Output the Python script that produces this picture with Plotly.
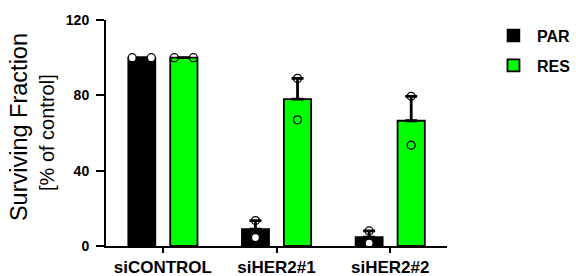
import plotly.graph_objects as go

# ---- data ----
categories = ["siCONTROL", "siHER2#1", "siHER2#2"]
par_mean = [100, 9, 4.75]
par_err = [0, 4.5, 3.25]
res_mean = [100, 78, 66.5]
res_err = [0, 11, 13]
par_points = [[100, 100], [4.5, 13.5], [1.5, 8]]
res_points = [[100, 100], [67, 89], [53.5, 79.5]]
y_ticks = [0, 40, 80, 120]

# ---- style ----
FONT = "Arial, Liberation Sans, sans-serif"
GREEN = "#00FF00"
BAR_W = 0.24
OFF = 0.185
JIT = 0.084

idx = list(range(len(categories)))
x_par = [i - OFF for i in idx]
x_res = [i + OFF for i in idx]

fig = go.Figure()
fig.add_trace(go.Bar(x=x_par, y=par_mean, width=BAR_W, name="PAR",
                     marker=dict(color="black", line=dict(color="black", width=1.5)),
                     legendgroup="a"))
fig.add_trace(go.Bar(x=x_res, y=res_mean, width=BAR_W, name="RES",
                     marker=dict(color=GREEN, line=dict(color="black", width=1.8)),
                     legendgroup="b"))


def pts(xc, groups):
    xs, ys = [], []
    for x0, g in zip(xc, groups):
        if len(set(g)) == 1:
            offs = [-JIT, JIT]
        else:
            offs = [0, 0]
        for o, v in zip(offs, g):
            xs.append(x0 + o)
            ys.append(v)
    return xs, ys


px, py = pts(x_par, par_points)
rx, ry = pts(x_res, res_points)
fig.add_trace(go.Scatter(x=px, y=py, mode="markers", showlegend=False, hoverinfo="skip",
                         marker=dict(size=8, color="white", line=dict(color="black", width=1.3))))
fig.add_trace(go.Scatter(x=rx, y=ry, mode="markers", showlegend=False, hoverinfo="skip",
                         marker=dict(size=8, color="rgba(0,0,0,0)", line=dict(color="black", width=1.3))))
# error bars (upward only), drawn on top of points
fig.add_trace(go.Scatter(x=x_par + x_res, y=par_mean + res_mean, mode="markers",
                         showlegend=False, hoverinfo="skip",
                         marker=dict(size=0, color="rgba(0,0,0,0)"),
                         error_y=dict(type="data", symmetric=False,
                                      array=par_err + res_err,
                                      arrayminus=[0] * (len(par_err) + len(res_err)),
                                      color="black", thickness=2.8, width=6)))

fig.update_layout(
    width=576, height=276, autosize=False,
    margin=dict(l=106, r=129, t=20, b=30, autoexpand=False),
    plot_bgcolor="white", paper_bgcolor="white",
    barmode="overlay",
    font=dict(family=FONT, color="black"),
    showlegend=True,
    legend=dict(x=1.126, y=1.006, xanchor="left", yanchor="top",
                font=dict(family=FONT, size=16, weight="bold", color="black"),
                itemwidth=37,
                traceorder="grouped", tracegroupgap=6, bgcolor="rgba(0,0,0,0)"),
    xaxis=dict(range=[-0.5, 2.5], tickvals=idx, ticktext=categories,
               showline=True, linecolor="black", linewidth=2,
               ticks="outside", ticklen=5, tickwidth=1.5, tickcolor="black",
               showgrid=False, zeroline=False, automargin=False,
               tickfont=dict(family=FONT, size=17, weight="bold", color="black")),
    yaxis=dict(range=[0, 120], tickvals=y_ticks,
               showline=True, linecolor="black", linewidth=2,
               ticks="outside", ticklen=8, tickwidth=2, tickcolor="black",
               ticklabelstandoff=4,
               showgrid=False, zeroline=False, automargin=False,
               tickfont=dict(family=FONT, size=14, weight="bold", color="black")),
    annotations=[
        dict(text="Surviving Fraction", textangle=-90, xref="paper", yref="paper",
             x=-0.253, y=0.525, xanchor="center", yanchor="middle", showarrow=False,
             font=dict(family=FONT, size=23.5, color="black")),
        dict(text="[% of control]", textangle=-90, xref="paper", yref="paper",
             x=-0.171, y=0.503, xanchor="center", yanchor="middle", showarrow=False,
             font=dict(family=FONT, size=20, color="black")),
    ],
)

fig.write_html("out.html", config={"displayModeBar": False},
               post_script="document.body.style.margin='0';document.body.style.overflow='hidden';")
